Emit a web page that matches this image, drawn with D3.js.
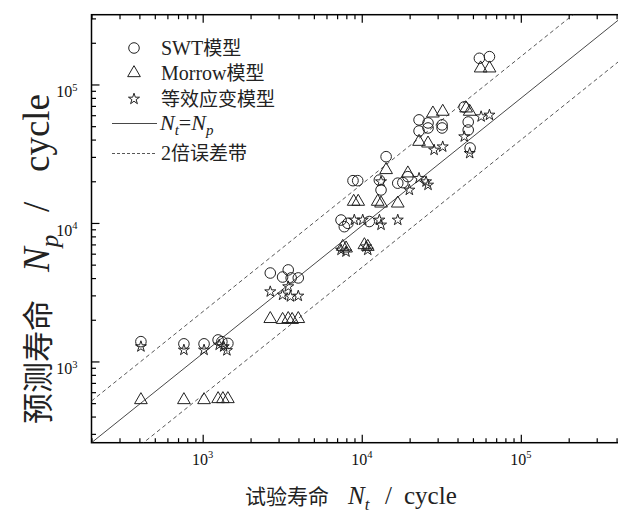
<!DOCTYPE html>
<html lang="zh">
<head>
<meta charset="UTF-8">
<title>预测寿命与试验寿命</title>
<script src="https://d3js.org/d3.v7.min.js"></script>
<style>
  body { margin: 0; background: #fff; }
  svg { display: block; }
  .serif { font-family: "Liberation Serif", "DejaVu Serif", serif; }
  .cjk { font-family: "Noto Sans CJK SC", sans-serif; }
</style>
</head>
<body>
<svg id="chart" width="618" height="513"></svg>
<script>
  // Data: [试验寿命 Nt, 预测寿命 Np]
  const swtData = [
    [409, 1390], [762, 1340], [1020, 1340], [1250, 1430], [1320, 1390], [1440, 1350],
    [2660, 4350], [3180, 4070], [3450, 4580], [3600, 4010], [3990, 4010],
    [7410, 10500], [7770, 9400], [8180, 9940], [11150, 10240],
    [8810, 20200], [9430, 20200], [12900, 20400], [13220, 17300], [14230, 30100],
    [16840, 19380], [18130, 19550], [19490, 21600],
    [22920, 55500], [22920, 46150], [26100, 52750], [26100, 48510], [32000, 51050], [32000, 48510],
    [44000, 68800], [46700, 53600], [46700, 46900], [48000, 34800],
    [54900, 154500], [63500, 158800]
  ];
  const morrowData = [
    [409, 527], [762, 527], [1020, 527], [1250, 536], [1340, 536], [1440, 536],
    [2660, 2030], [3180, 2000], [3450, 2030], [3650, 2000], [3990, 2030],
    [7600, 6740], [7970, 6560], [10390, 6930], [10910, 6740],
    [8900, 14260], [9500, 14260], [12600, 14260], [13220, 13850], [16840, 13850],
    [14230, 24150], [19490, 22850],
    [22920, 38640], [26100, 37580], [28000, 61900], [32300, 63700],
    [45300, 67300], [47700, 63700],
    [55900, 130900], [63600, 130900]
  ];
  const strainData = [
    [409, 1280], [762, 1210], [1020, 1210], [1270, 1316], [1355, 1280], [1420, 1200],
    [2660, 3190], [3180, 3020], [3450, 3470], [3560, 2940], [3990, 2970],
    [7410, 6380], [7960, 6200], [10640, 6740], [10910, 6380],
    [8980, 10510], [10140, 10510], [12910, 10510], [13220, 9680], [16840, 10510],
    [13220, 19870], [19920, 17300], [22920, 21030], [25360, 19870], [26100, 18800],
    [28500, 33650], [32280, 35500], [44100, 41980], [47700, 31850],
    [56300, 58600], [63500, 60200]
  ];

  // reference line Nt = Np as drawn in the figure, and the factor-2 band
  const refNt = [200, 5e5];
  const refNp = [259, 3.5e5];
  const bandFactor = 2;

  const majorTicks = [1e3, 1e4, 1e5];
  const tickExponents = ["3", "4", "5"];

  const legendItems = ["SWT模型", "Morrow模型", "等效应变模型"];

  // Layout
  const plot = { left: 91.5, top: 14.7, bottom: 442.7, right: 632 };
  const x = d3.scaleLog().domain([200, 5e5]).range([plot.left, plot.right]);
  const y = d3.scaleLog().domain([259, 3.19e5]).range([plot.bottom, plot.top]);

  const svg = d3.select('#chart');
  svg.append('defs').append('clipPath').attr('id', 'clip')
    .append('rect')
    .attr('x', plot.left).attr('y', plot.top)
    .attr('width', plot.right - plot.left).attr('height', plot.bottom - plot.top);

  const isMajor = v => Math.abs(Math.log10(v) - Math.round(Math.log10(v))) < 1e-9;
  const xMinor = x.ticks().filter(v => !isMajor(v));
  const yMinor = y.ticks().filter(v => !isMajor(v));

  // Axes (ticks inward, no domain path)
  function drawAxis(gen, tr) {
    const a = svg.append('g').attr('transform', tr).call(gen);
    a.select('.domain').remove();
    a.selectAll('line').attr('stroke', '#000').attr('stroke-width', 1.2);
    a.selectAll('text').remove();
  }
  drawAxis(d3.axisBottom(x).tickValues(xMinor).tickSize(-4.5), `translate(0,${plot.bottom})`);
  drawAxis(d3.axisBottom(x).tickValues(majorTicks).tickSize(-8), `translate(0,${plot.bottom})`);
  drawAxis(d3.axisTop(x).tickValues(xMinor).tickSize(-4.5), `translate(0,${plot.top})`);
  drawAxis(d3.axisTop(x).tickValues(majorTicks).tickSize(-8), `translate(0,${plot.top})`);
  drawAxis(d3.axisLeft(y).tickValues(yMinor).tickSize(-4.5), `translate(${plot.left},0)`);
  drawAxis(d3.axisLeft(y).tickValues(majorTicks).tickSize(-8), `translate(${plot.left},0)`);

  // Frame
  svg.append('rect')
    .attr('x', plot.left).attr('y', plot.top)
    .attr('width', plot.right - plot.left).attr('height', plot.bottom - plot.top)
    .attr('fill', 'none').attr('stroke', '#000').attr('stroke-width', 1.5);

  // Tick labels
  const xLab = svg.append('g').attr('class', 'serif').attr('font-size', 16).attr('fill', '#111');
  majorTicks.forEach((v, i) => {
    const t = xLab.append('text').attr('x', x(v)).attr('y', plot.bottom + 22).attr('text-anchor', 'middle');
    t.append('tspan').text('10');
    t.append('tspan').attr('font-size', 10.5).attr('dy', -6.5).text(tickExponents[i]);
  });
  const yLab = svg.append('g').attr('class', 'serif').attr('font-size', 16).attr('fill', '#111');
  majorTicks.forEach((v, i) => {
    const t = yLab.append('text').attr('x', 77.5).attr('y', y(v) + 13).attr('text-anchor', 'end');
    t.append('tspan').text('10');
    t.append('tspan').attr('font-size', 10.5).attr('dy', -6.5).text(tickExponents[i]);
  });

  // Axis titles (pieces placed along the axis like the original)
  const xt = svg.append('text').attr('y', 504).attr('class', 'serif').attr('font-size', 25).attr('fill', '#222');
  xt.append('tspan').attr('x', 245).attr('class', 'cjk').attr('font-size', 21).text('试验寿命');
  xt.append('tspan').attr('x', 348).attr('font-style', 'italic').text('N');
  xt.append('tspan').attr('font-style', 'italic').attr('font-size', 17).attr('dy', 6).text('t');
  xt.append('tspan').attr('x', 385).attr('dy', -6).text('/');
  xt.append('tspan').attr('x', 404).text('cycle');

  const yt = svg.append('text').attr('transform', 'translate(49,424) rotate(-90)')
    .attr('class', 'serif').attr('font-size', 37).attr('fill', '#222');
  yt.append('tspan').attr('x', 0).attr('class', 'cjk').attr('font-size', 31).text('预测寿命');
  yt.append('tspan').attr('x', 152).attr('font-style', 'italic').text('N');
  yt.append('tspan').attr('font-style', 'italic').attr('font-size', 25).attr('dy', 9).text('p');
  yt.append('tspan').attr('x', 212).attr('dy', -9).text('/');
  yt.append('tspan').attr('x', 252).text('cycle');

  // Plot content
  const g = svg.append('g').attr('clip-path', 'url(#clip)');
  const line = d3.line().x(d => x(d[0])).y(d => y(d[1]));
  const ref = refNt.map((v, i) => [v, refNp[i]]);
  g.append('path').attr('d', line(ref)).attr('fill', 'none').attr('stroke', '#333').attr('stroke-width', 0.9);
  g.append('path').attr('d', line(ref.map(d => [d[0], d[1] * bandFactor])))
    .attr('fill', 'none').attr('stroke', '#444').attr('stroke-width', 0.9).attr('stroke-dasharray', '4,3');
  g.append('path').attr('d', line(ref.map(d => [d[0], d[1] / bandFactor])))
    .attr('fill', 'none').attr('stroke', '#444').attr('stroke-width', 0.9).attr('stroke-dasharray', '4,3');

  const symbols = [
    d3.symbol().type(d3.symbolCircle).size(88),
    d3.symbol().type(d3.symbolTriangle).size(70),
    d3.symbol().type(d3.symbolStar).size(38)
  ];
  [swtData, morrowData, strainData].forEach((data, k) => {
    g.append('g').selectAll('path').data(data).join('path')
      .attr('transform', d => `translate(${x(d[0])},${y(d[1])})`)
      .attr('d', symbols[k]())
      .attr('fill', 'none').attr('stroke', '#222').attr('stroke-width', 1);
  });

  // Legend
  const leg = svg.append('g');
  const legY = [48, 73, 99];
  legendItems.forEach((name, k) => {
    leg.append('path').attr('transform', `translate(134,${legY[k]})`)
      .attr('d', symbols[k]()).attr('fill', 'none').attr('stroke', '#222').attr('stroke-width', 1);
    const m = name.match(/^([A-Za-z]*)(.*)$/);
    const t = leg.append('text').attr('x', 161).attr('y', legY[k] + 7).attr('font-size', 20).attr('fill', '#222');
    if (m[1]) t.append('tspan').attr('class', 'serif').text(m[1]);
    t.append('tspan').attr('class', 'cjk').attr('font-size', 19).text(m[2]);
  });
  leg.append('line').attr('x1', 112).attr('x2', 157).attr('y1', 123.5).attr('y2', 123.5)
    .attr('stroke', '#333').attr('stroke-width', 0.9);
  leg.append('line').attr('x1', 112).attr('x2', 157).attr('y1', 153.5).attr('y2', 153.5)
    .attr('stroke', '#444').attr('stroke-width', 0.9).attr('stroke-dasharray', '3,2');
  const lt = leg.append('text').attr('x', 160).attr('y', 130).attr('class', 'serif').attr('font-size', 22).attr('fill', '#222');
  lt.append('tspan').attr('font-style', 'italic').text('N');
  lt.append('tspan').attr('font-style', 'italic').attr('font-size', 15).attr('dy', 5).text('t');
  lt.append('tspan').attr('dy', -5).text('=');
  lt.append('tspan').attr('font-style', 'italic').text('N');
  lt.append('tspan').attr('font-style', 'italic').attr('font-size', 15).attr('dy', 5).text('p');
  const bt = leg.append('text').attr('x', 161).attr('y', 160).attr('font-size', 20).attr('fill', '#222');
  bt.append('tspan').attr('class', 'serif').text('2');
  bt.append('tspan').attr('class', 'cjk').attr('font-size', 19).text('倍误差带');
</script>
</body>
</html>
